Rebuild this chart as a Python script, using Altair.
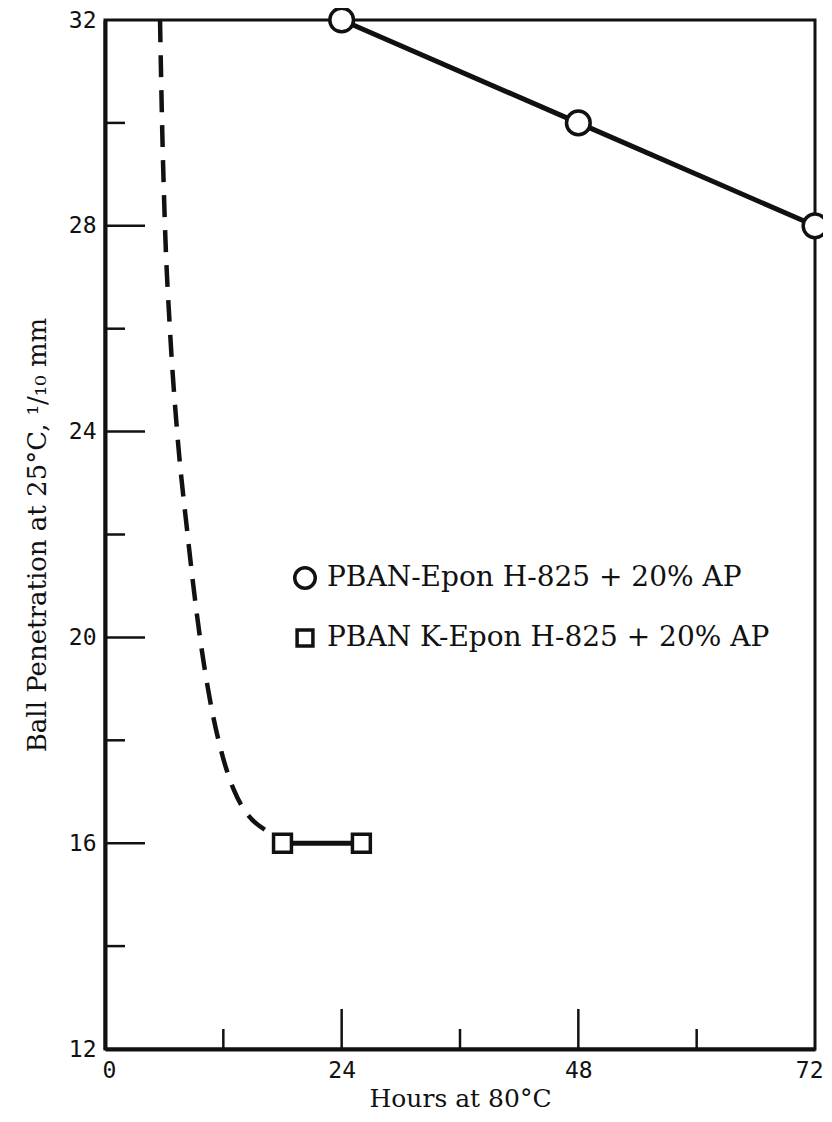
import altair as alt
import pandas as pd

# ---- data ----
pban_hours = [24, 48, 72]
pban_pen = [32.0, 30.0, 28.0]

pbank_hours = [18, 26]
pbank_pen = [16.0, 16.0]

curve_hours = [5.58, 5.78, 6.08, 6.59, 7.30, 8.32, 9.63, 10.65, 11.76, 13.08, 14.50, 16.23]
curve_pen = [32.0, 30.06, 28.0, 25.97, 24.03, 22.09, 20.0, 18.78, 17.81, 17.03, 16.55, 16.26]

x_label_values = [0, 24, 48, 72]
y_label_values = [12, 16, 20, 24, 28, 32]
x_major_ticks = [24, 48]
x_minor_ticks = [12, 36, 60]
y_major_ticks = [16, 20, 24, 28]
y_minor_ticks = [14, 18, 22, 26, 30]

legend_labels = ["PBAN-Epon H-825 + 20% AP", "PBAN K-Epon H-825 + 20% AP"]

INK = "#111111"
W, H = 710, 1029

xscale = alt.Scale(domain=[0, 72], nice=False, zero=False)
yscale = alt.Scale(domain=[12, 32], nice=False, zero=False)

xaxis = alt.Axis(values=x_label_values, labelFont="DejaVu Sans Mono", labelFontSize=23,
                 labelColor=INK, labelPadding=10, labelFlush=False, ticks=False, tickSize=0,
                 labelAlign=alt.ExprRef("datum.value == 72 ? 'right' : 'center'"),
                 labelOffset=alt.ExprRef("datum.value == 72 ? 8 : (datum.value == 0 ? 4 : 0)"),
                 grid=False, domainColor=INK, domainWidth=4,
                 title="Hours at 80°C", titleFont="DejaVu Serif", titleFontSize=25,
                 titleFontWeight="normal", titleColor=INK, titlePadding=4)
yaxis = alt.Axis(values=y_label_values, labelFont="DejaVu Sans Mono", labelFontSize=23,
                 labelColor=INK, labelPadding=9, ticks=False, tickSize=0,
                 grid=False, domainColor=INK, domainWidth=4,
                 title="Ball Penetration at 25°C, ¹/₁₀ mm", titleFont="DejaVu Serif",
                 titleFontSize=26, titleFontWeight="normal", titleColor=INK, titlePadding=18)

pban = pd.DataFrame({"hours": pban_hours, "pen": pban_pen})
pbank = pd.DataFrame({"hours": pbank_hours, "pen": pbank_pen})
curve = pd.DataFrame({"hours": curve_hours, "pen": curve_pen, "order": list(range(len(curve_hours)))})

base_x = alt.X("hours:Q", scale=xscale, axis=xaxis)
base_y = alt.Y("pen:Q", scale=yscale, axis=yaxis)

dashed = alt.Chart(curve).mark_line(color=INK, strokeWidth=4.5, strokeDash=[22, 13],
                                    interpolate="monotone").encode(
    x=base_x, y=base_y, order="order:Q")

line1 = alt.Chart(pban).mark_line(color=INK, strokeWidth=5).encode(x=base_x, y=base_y)
pts1 = alt.Chart(pban).mark_point(shape="circle", size=560, fill="white", stroke=INK,
                                  strokeWidth=3.5, opacity=1, fillOpacity=1).encode(x=base_x, y=base_y)

line2 = alt.Chart(pbank).mark_line(color=INK, strokeWidth=5).encode(x=base_x, y=base_y)
pts2 = alt.Chart(pbank).mark_point(shape="square", size=320, fill="white", stroke=INK,
                                   strokeWidth=3.5, opacity=1, fillOpacity=1).encode(x=base_x, y=base_y)

# inward tick marks
xmaj = alt.Chart(pd.DataFrame({"t": x_major_ticks})).mark_rule(color=INK, strokeWidth=2.5).encode(
    x=alt.X("t:Q", scale=xscale), y=alt.value(H), y2=alt.value(H - 40))
xmin = alt.Chart(pd.DataFrame({"t": x_minor_ticks})).mark_rule(color=INK, strokeWidth=2.5).encode(
    x=alt.X("t:Q", scale=xscale), y=alt.value(H), y2=alt.value(H - 20))
ymaj = alt.Chart(pd.DataFrame({"t": y_major_ticks})).mark_rule(color=INK, strokeWidth=2.5).encode(
    y=alt.Y("t:Q", scale=yscale), x=alt.value(0), x2=alt.value(40))
ymin = alt.Chart(pd.DataFrame({"t": y_minor_ticks})).mark_rule(color=INK, strokeWidth=2.5).encode(
    y=alt.Y("t:Q", scale=yscale), x=alt.value(0), x2=alt.value(20))

# in-plot legend
leg_c = alt.Chart(pd.DataFrame({"label": [legend_labels[0]]})).mark_point(
    shape="circle", size=420, fill="white", stroke=INK, strokeWidth=3.5, opacity=1).encode(
    x=alt.value(200), y=alt.value(558))
leg_s = alt.Chart(pd.DataFrame({"label": [legend_labels[1]]})).mark_point(
    shape="square", size=250, fill="white", stroke=INK, strokeWidth=3.5, opacity=1).encode(
    x=alt.value(200), y=alt.value(618))
leg_t1 = alt.Chart(pd.DataFrame({"label": [legend_labels[0]]})).mark_text(
    align="left", baseline="middle", font="DejaVu Serif", fontSize=28, color=INK).encode(
    text="label:N", x=alt.value(222), y=alt.value(558))
leg_t2 = alt.Chart(pd.DataFrame({"label": [legend_labels[1]]})).mark_text(
    align="left", baseline="middle", font="DejaVu Serif", fontSize=28, color=INK).encode(
    text="label:N", x=alt.value(222), y=alt.value(618))

chart = alt.layer(dashed, line1, line2, xmaj, xmin, ymaj, ymin, pts1, pts2,
                  leg_c, leg_s, leg_t1, leg_t2).properties(
    width=W, height=H,
    autosize=alt.AutoSizeParams(type="none"),
    padding={"left": 97, "top": 12, "right": 8, "bottom": 65},
    background="white",
).configure_view(stroke=INK, strokeWidth=3)

chart.save("out.html", embed_options={"renderer": "svg", "actions": False})
